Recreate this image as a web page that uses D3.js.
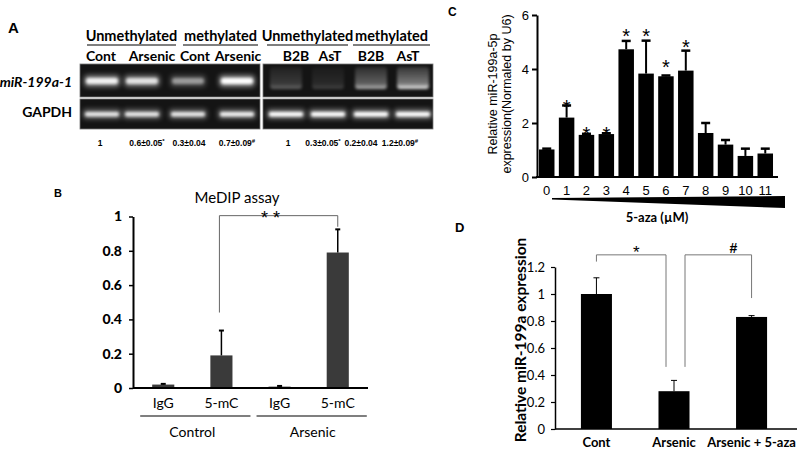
<!DOCTYPE html>
<html><head><meta charset="utf-8">
<script src="https://cdn.jsdelivr.net/npm/d3@7"></script>
<style>body{margin:0;background:#fff}svg{display:block}</style>
</head><body><svg id="c" width="800" height="453"></svg>
<script>
// ---------- DATA ----------
// Panel A (gel)
const gelHeadersLeft = ["Unmethylated", "methylated"];
const gelHeadersRight = ["Unmethylated", "methylated"];
const gelLanesLeft = ["Cont", "Arsenic", "Cont", "Arsenic"];
const gelLanesRight = ["B2B", "AsT", "B2B", "AsT"];
const gelRatiosLeft = [["1",""], ["0.6±0.05","*"], ["0.3±0.04",""], ["0.7±0.09","#"]];
const gelRatiosRight = [["1",""], ["0.3±0.05","*"], ["0.2±0.04",""], ["1.2±0.09","#"]];
const gelRows = ["miR-199a-1", "GAPDH"];
const bandTopLeft = [0.9, 0.8, 0.45, 1.0];
const bandBottomLeft = [0.85, 0.85, 0.85, 0.9];
const bandTopRight = [0.35, 0.2, 0.7, 0.95];
const bandBottomRight = [1.0, 1.0, 1.0, 1.0];

// Panel B (MeDIP)
const medipCats = ["IgG", "5-mC", "IgG", "5-mC"];
const medipVals = [0.02, 0.19, 0.008, 0.79];
const medipErrTop = [0.024, 0.335, 0.012, 0.925];
const medipTicks = [0, 0.2, 0.4, 0.6, 0.8, 1];
const medipGroups = ["Control", "Arsenic"];

// Panel C (5-aza dose)
const azaCats = ["0","1","2","3","4","5","6","7","8","9","10","11"];
const azaVals = [1.02, 2.2, 1.56, 1.59, 4.73, 3.83, 3.73, 3.94, 1.63, 1.2, 0.78, 0.87];
const azaErrTop = [1.05, 2.65, 1.6, 1.62, 5.04, 5.05, 3.76, 4.68, 2.0, 1.37, 1.05, 1.05];
const azaStars = [null, 2.74, 1.74, 1.74, 5.37, 5.37, 4.22, 4.96, null, null, null, null];
const azaTicks = [0, 2, 4, 6];

// Panel D
const dCats = ["Cont", "Arsenic", "Arsenic + 5-aza"];
const dVals = [1.0, 0.28, 0.83];
const dErrTop = [1.12, 0.36, 0.84];
const dTicks = [0, 0.2, 0.4, 0.6, 0.8, 1, 1.2];

// ---------- DRAW ----------
const svg = d3.select("#c");
const CAL = "Lato, 'Open Sans', sans-serif";
const ARI = "'Liberation Sans', Arial, sans-serif";
svg.append("rect").attr("width",800).attr("height",453).attr("fill","#fff");

const defs = svg.append("defs");
defs.append("filter").attr("id","blur").attr("x","-50%").attr("y","-50%").attr("width","200%").attr("height","200%")
  .append("feGaussianBlur").attr("stdDeviation",1.6);
defs.append("filter").attr("id","blur2").attr("x","-50%").attr("y","-50%").attr("width","200%").attr("height","200%")
  .append("feGaussianBlur").attr("stdDeviation",2.5);
const sm = defs.append("linearGradient").attr("id","smear").attr("x1",0).attr("x2",0).attr("y1",0).attr("y2",1);
sm.append("stop").attr("offset","0%").attr("stop-color","#fff").attr("stop-opacity",0.15);
sm.append("stop").attr("offset","75%").attr("stop-color","#fff").attr("stop-opacity",0.45);
sm.append("stop").attr("offset","100%").attr("stop-color","#fff").attr("stop-opacity",1);

function panelLabel(t, x, y, size) {
  svg.append("text").attr("x",x).attr("y",y).text(t)
    .attr("font-family",ARI).attr("font-weight","bold").attr("font-size",size);
}

// ===== Panel A =====
panelLabel("A", 8, 33, 15);
function gel(x0, x1, laneCenters, labelCenters, ratioCenters, headers, headerSpans, lanes, ratios, topI, botI, smearTop) {
  const g = svg.append("g");
  headers.forEach((h,i)=>{
    const [a,b] = headerSpans[i];
    g.append("text").attr("x",(a+b)/2).attr("y",41).attr("text-anchor","middle").text(h)
      .attr("font-family",CAL).attr("font-weight","bold").attr("font-size",14.5);
    g.append("line").attr("x1",a).attr("x2",b).attr("y1",45).attr("y2",45).attr("stroke","#555").attr("stroke-width",1.5);
  });
  lanes.forEach((l,i)=>{
    g.append("text").attr("x",labelCenters[i]).attr("y",61).attr("text-anchor","middle").text(l)
      .attr("font-family",CAL).attr("font-weight","bold").attr("font-size",14);
  });
  g.append("rect").attr("x",x0).attr("y",64).attr("width",x1-x0).attr("height",33).attr("fill","#141414").attr("stroke","#777").attr("stroke-width",0.8);
  g.append("rect").attr("x",x0).attr("y",99).attr("width",x1-x0).attr("height",30).attr("fill","#141414").attr("stroke","#777").attr("stroke-width",0.8);
  laneCenters.forEach((c,i)=>{
    if (smearTop) {
      g.append("rect").attr("x",c-16).attr("y",67).attr("width",32).attr("height",22).attr("rx",3)
        .attr("fill","url(#smear)").attr("opacity",topI[i]).attr("filter","url(#blur)");
    } else {
      g.append("rect").attr("x",c-18).attr("y",75).attr("width",36).attr("height",12).attr("rx",4)
        .attr("fill","#fff").attr("opacity",topI[i]*0.5).attr("filter","url(#blur2)");
      g.append("rect").attr("x",c-16).attr("y",78).attr("width",32).attr("height",6).attr("rx",3)
        .attr("fill","#fff").attr("opacity",topI[i]).attr("filter","url(#blur)");
    }
    g.append("rect").attr("x",c-19).attr("y",109).attr("width",38).attr("height",10).attr("rx",3)
      .attr("fill","#fff").attr("opacity",botI[i]*0.4).attr("filter","url(#blur2)");
    g.append("rect").attr("x",c-17).attr("y",112).attr("width",34).attr("height",4.5).attr("rx",2)
      .attr("fill","#fff").attr("opacity",botI[i]).attr("filter","url(#blur)");
  });
  ratios.forEach((r,i)=>{
    const t = g.append("text").attr("x",ratioCenters[i]).attr("y",146).attr("text-anchor","middle")
      .attr("font-family",ARI).attr("font-weight","bold").attr("font-size",8.5);
    t.append("tspan").text(r[0]);
    if (r[1]) t.append("tspan").text(r[1]).attr("font-size",6).attr("dy",-3);
  });
}
gel(80, 260, [102,142,188,237], [101,152,195,238], [100,147,189,237],
    gelHeadersLeft, [[87,176],[183,258]], gelLanesLeft, gelRatiosLeft, bandTopLeft, bandBottomLeft, false);
gel(263, 433, [286,328,371,413], [296,330,371,408], [288,323,361,400],
    gelHeadersRight, [[267,348],[353,430]], gelLanesRight, gelRatiosRight, bandTopRight, bandBottomRight, true);
svg.append("text").attr("x",72).attr("y",87).attr("text-anchor","end").text(gelRows[0])
  .attr("font-family",CAL).attr("font-weight","bold").attr("font-style","italic").attr("font-size",14);
svg.append("text").attr("x",72).attr("y",117).attr("text-anchor","end").text(gelRows[1])
  .attr("font-family",CAL).attr("font-weight","bold").attr("font-size",14);

// ===== Panel B =====
panelLabel("B", 54, 197, 11);
{
  const y = d3.scaleLinear().domain([0,1]).range([388,216.5]);
  const x = d3.scaleBand().domain(d3.range(medipCats.length)).range([133,368]).paddingInner(0.62).paddingOuter(0.33);
  const g = svg.append("g");
  g.append("text").attr("x",237).attr("y",203).attr("text-anchor","middle").text("MeDIP assay")
    .attr("font-family",CAL).attr("font-size",15);
  const ax = g.append("g").attr("transform","translate(133,0)")
    .call(d3.axisLeft(y).tickValues(medipTicks).tickSize(4).tickSizeOuter(0).tickFormat(d=>d));
  ax.select(".domain").attr("stroke-width",2);
  ax.selectAll(".tick line").attr("stroke-width",1.5);
  ax.selectAll("text").attr("font-family",CAL).attr("font-weight","900").attr("font-size",14).attr("fill","#000").attr("dx",-4);
  g.selectAll(".bb").data(medipVals).join("rect")
    .attr("x",(d,i)=>x(i)).attr("width",x.bandwidth()).attr("y",d=>y(d)).attr("height",d=>388-y(d)).attr("fill","#3a3a3a");
  medipErrTop.forEach((e,i)=>{
    const cx = x(i)+x.bandwidth()/2;
    g.append("line").attr("x1",cx).attr("x2",cx).attr("y1",y(medipVals[i])).attr("y2",y(e)).attr("stroke","#000").attr("stroke-width",1.5);
    g.append("line").attr("x1",cx-2.5).attr("x2",cx+2.5).attr("y1",y(e)).attr("y2",y(e)).attr("stroke","#000").attr("stroke-width",2);
  });
  g.append("line").attr("x1",133).attr("x2",368).attr("y1",388).attr("y2",388).attr("stroke","#000").attr("stroke-width",2);
  medipCats.forEach((c,i)=>{
    g.append("text").attr("x",x(i)+x.bandwidth()/2).attr("y",408).attr("text-anchor","middle").text(c)
      .attr("font-family",CAL).attr("font-size",14);
  });
  medipGroups.forEach((gr,i)=>{
    const a = x(2*i)-12, b = x(2*i+1)+x.bandwidth()+18;
    g.append("line").attr("x1",a).attr("x2",b).attr("y1",416).attr("y2",416).attr("stroke","#000").attr("stroke-width",1.2);
    g.append("text").attr("x",(x(2*i)+x(2*i+1)+x.bandwidth())/2+(i?4:0)).attr("y",437).attr("text-anchor","middle").text(gr)
      .attr("font-family",CAL).attr("font-size",14);
  });
  const c1 = x(1)+x.bandwidth()/2-2, c3 = x(3)+x.bandwidth()/2;
  g.append("path").attr("d",`M${c1},${y(0.44)}V${y(1.005)}H${c3}V${y(0.94)}`).attr("fill","none").attr("stroke","#666").attr("stroke-width",1);
  g.append("text").attr("x",(c1+c3)/2-8).attr("y",y(1.005)+8).attr("text-anchor","middle").text("*   *")
    .attr("font-family",ARI).attr("font-size",18);
}

// ===== Panel C =====
panelLabel("C", 448, 16, 12);
{
  const y = d3.scaleLinear().domain([0,6]).range([177,15]);
  const x = d3.scaleBand().domain(azaCats).range([537,775]).paddingInner(0.22).paddingOuter(0.1);
  const g = svg.append("g");
  const ax = g.append("g").attr("transform","translate(537,0)")
    .call(d3.axisLeft(y).tickValues(azaTicks).tickSize(5).tickSizeOuter(0).tickFormat(d3.format("d")));
  ax.select(".domain").attr("stroke-width",2);
  ax.selectAll(".tick line").attr("stroke-width",2);
  ax.selectAll("text").attr("font-family",ARI).attr("font-size",13).attr("fill","#000");
  g.selectAll(".cb").data(azaVals).join("rect")
    .attr("x",(d,i)=>x(azaCats[i])).attr("width",x.bandwidth()).attr("y",d=>y(d)).attr("height",d=>177-y(d)).attr("fill","#000");
  azaErrTop.forEach((e,i)=>{
    const cx = x(azaCats[i])+x.bandwidth()/2;
    g.append("line").attr("x1",cx).attr("x2",cx).attr("y1",y(azaVals[i])).attr("y2",y(e)).attr("stroke","#000").attr("stroke-width",2);
    g.append("line").attr("x1",cx-4.5).attr("x2",cx+4.5).attr("y1",y(e)).attr("y2",y(e)).attr("stroke","#000").attr("stroke-width",2.5);
  });
  azaStars.forEach((s,i)=>{
    if (s==null) return;
    g.append("text").attr("x",x(azaCats[i])+x.bandwidth()/2).attr("y",y(s)+11).attr("text-anchor","middle").text("*")
      .attr("font-family",ARI).attr("font-size",20);
  });
  g.append("line").attr("x1",536).attr("x2",778).attr("y1",177).attr("y2",177).attr("stroke","#000").attr("stroke-width",2);
  azaCats.forEach(c=>{
    g.append("text").attr("x",x(c)+x.bandwidth()/2).attr("y",195).attr("text-anchor","middle").text(c)
      .attr("font-family",ARI).attr("font-size",13);
  });
  g.append("path").attr("d","M552,198L785,196L785,208L552,199.5Z").attr("fill","#000");
  g.append("text").attr("x",657).attr("y",222).attr("text-anchor","middle").text("5-aza (µM)")
    .attr("font-family",CAL).attr("font-weight","bold").attr("font-size",13);
  const yl = g.append("text").attr("transform","translate(497,94) rotate(-90)").attr("text-anchor","middle")
    .attr("font-family",ARI).attr("font-size",12.5);
  yl.append("tspan").attr("x",0).attr("y",0).text("Relative miR-199a-5p");
  yl.append("tspan").attr("x",0).attr("y",14).text("expression(Normaled by U6)");
}

// ===== Panel D =====
panelLabel("D", 455, 232, 13);
{
  const y = d3.scaleLinear().domain([0,1.2]).range([429,267]);
  const x = d3.scaleBand().domain(dCats).range([553,795]).paddingInner(0.6).paddingOuter(0.36);
  const g = svg.append("g");
  const ax = g.append("g").attr("transform","translate(555,0)")
    .call(d3.axisLeft(y).tickValues(dTicks).tickSize(4).tickSizeOuter(0).tickFormat(d=>d));
  ax.select(".domain").attr("stroke-width",1.5);
  ax.selectAll(".tick line").attr("stroke-width",1.2);
  ax.selectAll("text").attr("font-family",CAL).attr("font-size",13).attr("fill","#000").attr("dx",-3);
  g.selectAll(".db").data(dVals).join("rect")
    .attr("x",(d,i)=>x(dCats[i])).attr("width",x.bandwidth()).attr("y",d=>y(d)).attr("height",d=>429-y(d)).attr("fill","#000");
  dErrTop.forEach((e,i)=>{
    const cx = x(dCats[i])+x.bandwidth()/2;
    g.append("line").attr("x1",cx).attr("x2",cx).attr("y1",y(dVals[i])).attr("y2",y(e)).attr("stroke","#000").attr("stroke-width",1);
    g.append("line").attr("x1",cx-3).attr("x2",cx+3).attr("y1",y(e)).attr("y2",y(e)).attr("stroke","#000").attr("stroke-width",1);
  });
  g.append("line").attr("x1",555).attr("x2",797).attr("y1",429).attr("y2",429).attr("stroke","#000").attr("stroke-width",1.5);
  dCats.forEach(c=>{
    g.append("text").attr("x",x(c)+x.bandwidth()/2).attr("y",447).attr("text-anchor","middle").text(c)
      .attr("font-family",CAL).attr("font-weight","bold").attr("font-size",13);
  });
  const cx = i => x(dCats[i])+x.bandwidth()/2;
  g.append("path").attr("d",`M${cx(0)},${y(1.24)}V${y(1.29)}H${cx(1)-8}V${y(0.46)}`).attr("fill","none").attr("stroke","#777").attr("stroke-width",1);
  g.append("path").attr("d",`M${cx(1)+11},${y(0.46)}V${y(1.29)}H${cx(2)}V${y(0.97)}`).attr("fill","none").attr("stroke","#777").attr("stroke-width",1);
  g.append("text").attr("x",(cx(0)+cx(1)-8)/2+5).attr("y",y(1.29)+3).attr("text-anchor","middle").text("*")
    .attr("font-family",ARI).attr("font-size",17);
  g.append("text").attr("x",(cx(1)+11+cx(2))/2+15).attr("y",y(1.29)-2).attr("text-anchor","middle").text("#")
    .attr("font-family",ARI).attr("font-weight","bold").attr("font-size",14);
  g.append("text").attr("transform","translate(526,340) rotate(-90)").attr("text-anchor","middle").text("Relative miR-199a expression")
    .attr("font-family",CAL).attr("font-weight","bold").attr("font-size",15.5);
}
</script></body></html>
